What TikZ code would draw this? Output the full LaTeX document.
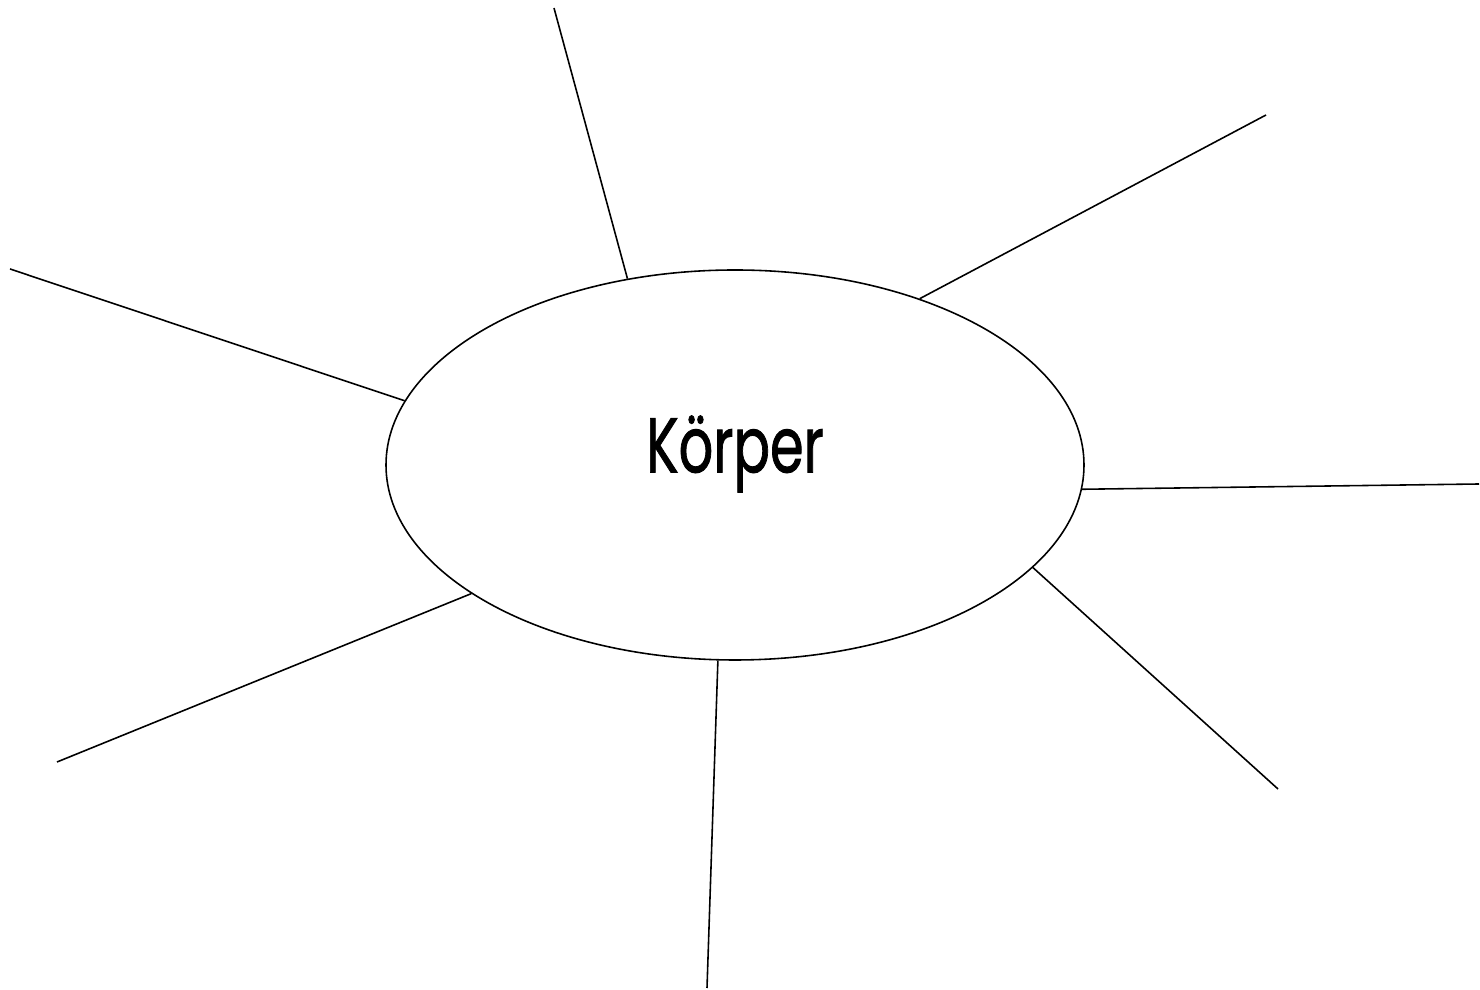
\documentclass[tikz,border=0pt]{standalone}
\usepackage{fontspec}
\setmainfont{Poppins}
\newfontfamily\wordfont{Poppins}[FakeBold=1.3]
\usetikzlibrary{shapes.geometric}

\begin{document}
\begin{tikzpicture}[every node/.style={font=\fontsize{22}{25}\selectfont}, ray/.style={line width=0.45pt}]
  \useasboundingbox (0,0) rectangle (14.8,9.9);

  % Centre
  \node (body) [ellipse, draw, line width=0.45pt, inner sep=0pt, minimum width=6.98cm, minimum height=3.9cm] at (7.35,5.25) {};
  \node (word) [yshift=1.1mm, font=\fontsize{22}{25}\wordfont] at (body.center) {\scalebox{0.7}[1]{Körper}};

  % Free ends
  \coordinate (top) at (5.54,9.82);
  \coordinate (topright) at (12.66,8.75);
  \coordinate (left) at (0.10,7.21);
  \coordinate (right) at (14.79,5.06);
  \coordinate (lowleft) at (0.57,2.28);
  \coordinate (lowright) at (12.78,2.01);
  \coordinate (bottom) at (7.07,0.02);

  % Rays
  \draw[ray] (body.120.7) -- (top);
  \draw[ray] (body.42.1) -- (topright);
  \draw[ray] (body.169.1) -- (left);
  \draw[ray] (body.-4.1) -- (right);
  \draw[ray] (body.206.3) -- (lowleft);
  \draw[ray] (body.-19.6) -- (lowright);
  \draw[ray] (body.265) -- (bottom);
\end{tikzpicture}
\end{document}
